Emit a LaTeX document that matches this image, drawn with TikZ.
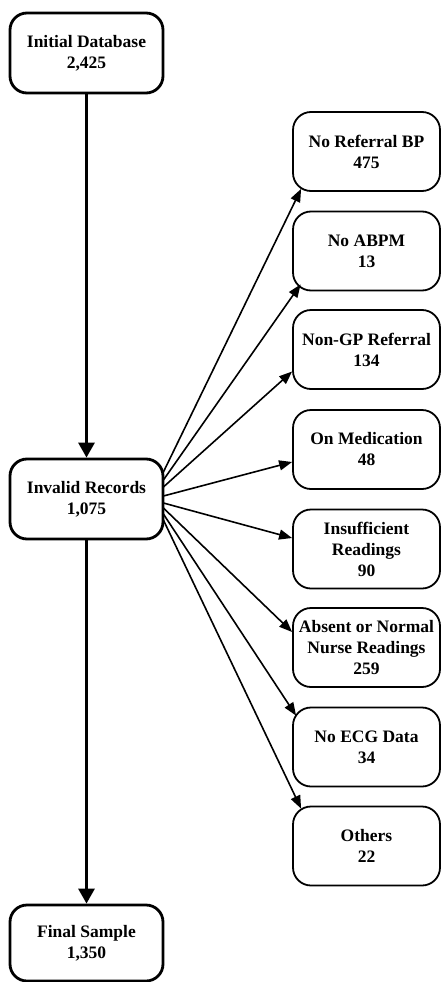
\documentclass[tikz,border=0pt]{standalone}
\usepackage{fontspec}
\setmainfont{Liberation Serif}
\usetikzlibrary{arrows.meta,calc}
\tikzset{
  mainbox/.style={draw, line width=2.8pt, rounded corners=17pt, minimum width=153pt, minimum height=80pt, align=center, inner sep=0pt, font=\fontsize{17.5}{21}\selectfont\bfseries},
  subbox/.style={draw, line width=1.8pt, rounded corners=18pt, minimum width=147pt, minimum height=79pt, align=center, inner sep=0pt, font=\fontsize{17.5}{21}\selectfont\bfseries},
  thickarrow/.style={line width=3pt, -{Triangle[length=15pt,width=16pt]}},
  thinarrow/.style={line width=1.6pt, -{Triangle[length=13pt,width=10pt]}},
}
\begin{document}
\begin{tikzpicture}[x=1pt,y=-1pt]
\useasboundingbox (0,0) rectangle (442,982);
\node[mainbox] (init) at (86.5,53) {Initial Database\\2,425};
\node[mainbox] (inv) at (86.5,499) {Invalid Records\\1,075};
\node[mainbox, minimum height=76pt] (fin) at (86.5,943) {Final Sample\\1,350};

\node[subbox] (nrbp) at (366.5,151.5) {No Referral BP\\475};
\node[subbox] (abpm) at (366.5,251) {No ABPM\\13};
\node[subbox] (ngp) at (366.5,349.5) {Non-GP Referral\\134};
\node[subbox] (med) at (366.5,449.5) {On Medication\\48};
\node[subbox] (ins) at (366.5,549) {Insufficient\\Readings\\90};
\node[subbox] (abs) at (366.5,647.5) {Absent or Normal\\Nurse Readings\\259};
\node[subbox] (ecg) at (366.5,747) {No ECG Data\\34};
\node[subbox] (oth) at (366.5,846) {Others\\22};

\draw[thickarrow] (init.south) -- (inv.north);
\draw[thickarrow] (inv.south) -- (fin.north);

\draw[thinarrow] ($(inv.east)+(-1pt,27pt)$) -- ($(nrbp.south west)+(9pt,3pt)$);
\draw[thinarrow] ($(inv.east)+(-1pt,19pt)$) -- ($(abpm.south west)+(8.5pt,7pt)$);
\draw[thinarrow] ($(inv.east)+(-1pt,12pt)$) -- ($(ngp.west)+(0pt,-22pt)$);
\draw[thinarrow] ($(inv.east)+(-1pt,3pt)$) -- ($(med.west)+(0pt,-12.5pt)$);
\draw[thinarrow] ($(inv.east)+(-1pt,-4pt)$) -- ($(ins.west)+(0pt,11pt)$);
\draw[thinarrow] ($(inv.east)+(-1pt,-9pt)$) -- ($(abs.west)+(0pt,15.5pt)$);
\draw[thinarrow] ($(inv.east)+(-1pt,-15pt)$) -- ($(ecg.north west)+(4pt,-9pt)$);
\draw[thinarrow] ($(inv.east)+(-1pt,-21pt)$) -- ($(oth.north west)+(9pt,-3pt)$);
\end{tikzpicture}
\end{document}
